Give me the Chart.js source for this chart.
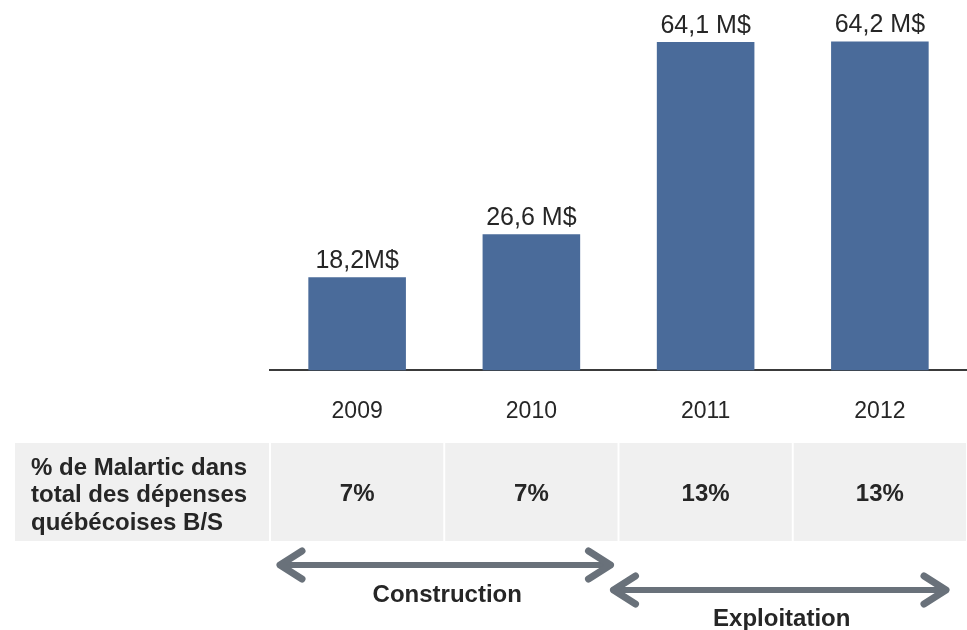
<!DOCTYPE html>
<html>
<head>
<meta charset="utf-8">
<script src="https://cdn.jsdelivr.net/npm/chart.js@4.4.1/dist/chart.umd.min.js"></script>
<style>
  html, body { margin: 0; padding: 0; background: #fff; }
  #wrap { width: 967px; height: 630px; position: relative; }
</style>
</head>
<body>
<div id="wrap"><canvas id="spendChart"></canvas></div>
<script>
const years = ["2009", "2010", "2011", "2012"];
const spending = [18.2, 26.6, 64.1, 64.2];
const spendingLabels = ["18,2M$", "26,6 M$", "64,1 M$", "64,2 M$"];
const shares = ["7%", "7%", "13%", "13%"];
const rowTitle = ["% de Malartic dans", "total des dépenses", "québécoises B/S"];
const phases = [
  { label: "Construction", from: 0, to: 1 },
  { label: "Exploitation", from: 2, to: 3 }
];

const FONT = "'Liberation Sans', Arial, sans-serif";
const TEXT = "#262626";
const ARROW = "#69717a";

function drawArrow(ctx, x1, x2, y) {
  ctx.save();
  ctx.strokeStyle = ARROW;
  ctx.lineCap = "round";
  ctx.lineJoin = "round";
  ctx.lineWidth = 6;
  ctx.beginPath();
  ctx.moveTo(x1 + 3, y);
  ctx.lineTo(x2 - 3, y);
  ctx.stroke();
  ctx.lineWidth = 7;
  ctx.beginPath();
  ctx.moveTo(x1 + 25, y - 14);
  ctx.lineTo(x1 + 3, y);
  ctx.lineTo(x1 + 25, y + 14);
  ctx.moveTo(x2 - 25, y - 14);
  ctx.lineTo(x2 - 3, y);
  ctx.lineTo(x2 - 25, y + 14);
  ctx.stroke();
  ctx.restore();
}

const extras = {
  id: "extras",
  afterDraw(chart) {
    const ctx = chart.ctx;
    const xs = chart.scales.x;
    const meta = chart.getDatasetMeta(0);
    const half = (xs.getPixelForValue(1) - xs.getPixelForValue(0)) / 2;

    // value labels above bars
    ctx.save();
    ctx.fillStyle = TEXT;
    ctx.font = "25px " + FONT;
    ctx.textAlign = "center";
    ctx.textBaseline = "alphabetic";
    meta.data.forEach((bar, i) => {
      ctx.fillText(spendingLabels[i], bar.x, bar.y - 9);
    });

    // table row
    const top = 443, bottom = 541;
    const left = xs.getPixelForValue(0) - half;
    ctx.fillStyle = "#f0f0f0";
    ctx.fillRect(15, top, left - 15 - 1, bottom - top);
    years.forEach((y, i) => {
      const c = xs.getPixelForValue(i);
      ctx.fillRect(c - half + 1, top, half * 2 - 2, bottom - top);
    });
    ctx.fillStyle = TEXT;
    ctx.font = "bold 24px " + FONT;
    ctx.textAlign = "left";
    ctx.textBaseline = "middle";
    rowTitle.forEach((line, i) => ctx.fillText(line, 31, 468 + i * 27.5));
    ctx.textAlign = "center";
    shares.forEach((s, i) => ctx.fillText(s, xs.getPixelForValue(i), 494));

    // phase arrows
    const ys = [565, 590];
    const textYs = [595, 619];
    phases.forEach((p, k) => {
      const x1 = k === 0 ? xs.getPixelForValue(p.from) - half + 7 : xs.getPixelForValue(p.from) - half - 8;
      const x2 = k === 0 ? xs.getPixelForValue(p.to) + half - 5 : xs.getPixelForValue(p.to) + half - 18;
      drawArrow(ctx, x1, x2, ys[k]);
      ctx.fillStyle = TEXT;
      ctx.fillText(p.label, (x1 + x2) / 2 + 2, textYs[k]);
    });
    ctx.restore();
  }
};

const spendChart = new Chart(document.getElementById("spendChart"), {
  type: "bar",
  data: {
    labels: years,
    datasets: [{
      data: spending,
      backgroundColor: "#4a6b9a",
      categoryPercentage: 1,
      barPercentage: 0.56
    }]
  },
  options: {
    responsive: true,
    maintainAspectRatio: false,
    animation: false,
    layout: { padding: { left: 270, right: 0, top: 0, bottom: 178 } },
    plugins: { legend: { display: false }, tooltip: { enabled: false } },
    scales: {
      x: {
        grid: { display: false, drawTicks: false },
        border: { display: true, color: "#3a3a3a", width: 2 },
        ticks: { color: TEXT, font: { family: FONT, size: 23 }, padding: 27 }
      },
      y: { display: false, min: 0, max: 72.3 }
    }
  },
  plugins: [extras]
});
</script>
</body>
</html>
